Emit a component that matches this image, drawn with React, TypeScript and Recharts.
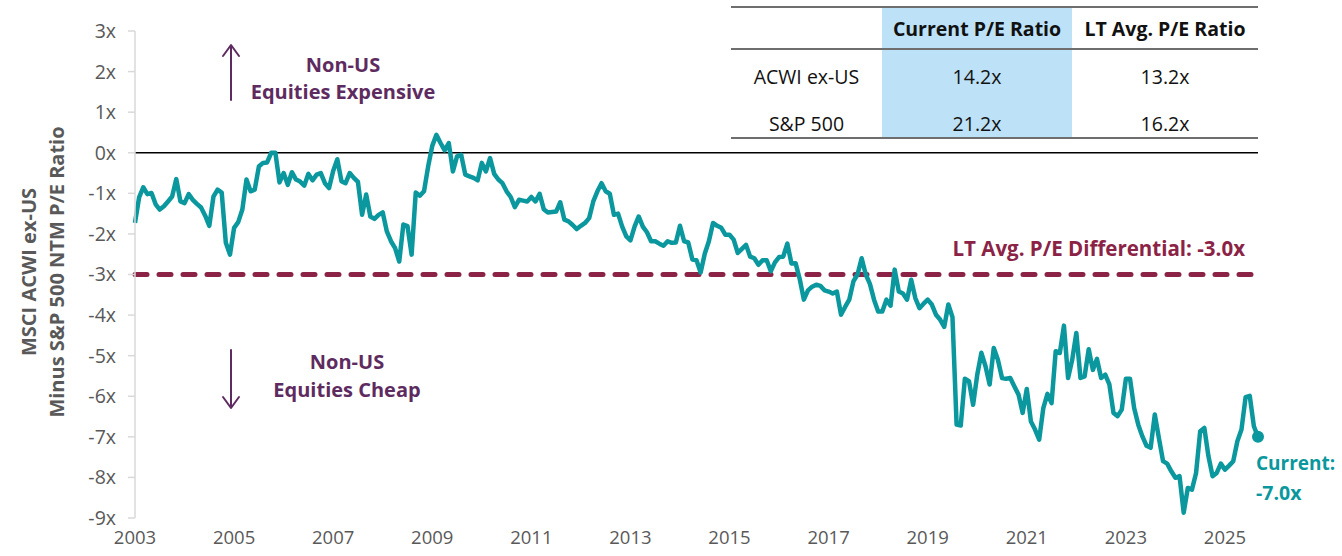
import { LineChart, Line, XAxis, YAxis, ReferenceLine } from "recharts";

// MSCI ACWI ex-US minus S&P 500 NTM P/E, monthly from Jan 2003
const startYear = 2003;
const peDiff = [
  -1.73, -1.1, -0.85, -1.02, -0.99, -1.27, -1.4, -1.32, -1.2, -1.08, -0.65, -1.2,
  -1.24, -1.02, -1.16, -1.26, -1.35, -1.55, -1.8, -1.08, -0.91, -0.98, -2.22, -2.51,
  -1.85, -1.71, -1.4, -0.66, -0.95, -0.91, -0.34, -0.25, -0.24, 0.0, 0.0, -0.73,
  -0.5, -0.79, -0.48, -0.66, -0.71, -0.81, -0.52, -0.68, -0.54, -0.5, -0.75, -0.87,
  -0.45, -0.16, -0.7, -0.75, -0.5, -0.62, -0.72, -1.53, -1.03, -1.57, -1.63, -1.53,
  -1.47, -1.94, -2.18, -2.35, -2.68, -1.77, -1.81, -2.51, -0.98, -1.06, -0.95, -0.34,
  0.17, 0.44, 0.24, 0.06, 0.24, -0.46, -0.09, -0.05, -0.54, -0.58, -0.62, -0.68,
  -0.25, -0.46, -0.13, -0.52, -0.66, -0.75, -0.95, -1.09, -1.34, -1.16, -1.18, -1.2,
  -1.09, -1.2, -1.01, -1.39, -1.47, -1.46, -1.45, -1.22, -1.65, -1.69, -1.78, -1.88,
  -1.8, -1.73, -1.61, -1.2, -0.95, -0.75, -0.95, -1.01, -1.53, -1.5, -1.82, -2.06,
  -2.16, -1.82, -1.57, -1.82, -1.96, -2.18, -2.18, -2.24, -2.29, -2.18, -2.22, -2.21,
  -1.8, -2.18, -2.21, -2.63, -2.65, -2.95, -2.49, -2.18, -1.73, -1.8, -1.85, -2.02,
  -2.02, -2.14, -2.47, -2.37, -2.27, -2.56, -2.6, -2.76, -2.65, -2.65, -2.92, -2.7,
  -2.57, -2.56, -2.24, -2.73, -2.72, -3.11, -3.62, -3.39, -3.3, -3.25, -3.28, -3.39,
  -3.42, -3.47, -3.42, -3.99, -3.8, -3.62, -3.17, -3.0, -2.6, -3.0, -3.23, -3.62,
  -3.91, -3.91, -3.62, -3.77, -2.88, -3.42, -3.47, -3.62, -3.13, -3.58, -3.83, -3.72,
  -3.62, -3.74, -3.99, -4.11, -4.29, -3.74, -4.05, -6.7, -6.72, -5.57, -5.63, -6.21,
  -5.47, -4.93, -5.26, -5.71, -4.81, -5.1, -5.55, -5.57, -5.55, -5.76, -5.96, -6.41,
  -5.82, -6.62, -6.82, -7.07, -6.29, -5.94, -6.17, -4.89, -4.93, -4.26, -5.55, -5.1,
  -4.44, -5.55, -5.51, -4.84, -5.35, -5.08, -5.55, -5.47, -5.71, -6.41, -6.49, -6.33,
  -5.57, -5.57, -6.29, -6.7, -6.99, -7.22, -7.27, -6.45, -7.03, -7.6, -7.66, -7.85,
  -8.01, -7.97, -8.87, -8.26, -8.3, -7.89, -6.86, -6.78, -7.48, -7.97, -7.89, -7.66,
  -7.81, -7.71, -7.6, -7.11, -6.82, -6.02, -5.99, -6.74, -7.0,
];
const yearLabels = [2003, 2005, 2007, 2009, 2011, 2013, 2015, 2017, 2019, 2021, 2023, 2025];
const yTicks = [-9, -8, -7, -6, -5, -4, -3, -2, -1, 0, 1, 2, 3];
const ltAvgDiff = -3.0;

const tableHeaders = ["Current P/E Ratio", "LT Avg. P/E Ratio"];
const tableRows = ["ACWI ex-US", "S&P 500"];
const currentPE = [14.2, 21.2];
const ltAvgPE = [13.2, 16.2];

const FONT = "'Open Sans', sans-serif";
const TEAL = "#0a979d";
const MAROON = "#8b2346";
const PURPLE = "#5e2b60";
const GRAY = "#595959";

const data = peDiff.map((v, i) => ({ m: i, v }));
const lastIdx = data.length - 1;

function EndDot(props: any) {
  const { cx, cy, index } = props;
  if (index !== lastIdx) return <g key={`d${index}`} />;
  return (
    <g key={`d${index}`}>
      <circle cx={cx} cy={cy} r={6} fill={TEAL} />
      <text x={cx - 2} y={cy + 33} fill={TEAL} fontSize={19} fontWeight={700} fontFamily={FONT}>
        Current:
      </text>
      <text x={cx - 2} y={cy + 63} fill={TEAL} fontSize={19.5} fontWeight={700} fontFamily={FONT}>
        {`${peDiff[lastIdx].toFixed(1)}x`}
      </text>
    </g>
  );
}

function AvgLabel(props: any) {
  const { viewBox } = props;
  return (
    <text
      x={viewBox.x + viewBox.width - 13}
      y={viewBox.y - 19}
      textAnchor="end"
      fill={MAROON}
      fontSize={20.5}
      fontWeight={700}
      fontFamily={FONT}
    >
      {`LT Avg. P/E Differential: ${ltAvgDiff.toFixed(1)}x`}
    </text>
  );
}

const cell = (left: number, width: number, top: number, bold: boolean): React.CSSProperties => ({
  position: "absolute",
  left,
  width,
  top,
  height: 30,
  lineHeight: "30px",
  textAlign: "center",
  fontFamily: FONT,
  fontSize: 19.5,
  fontWeight: bold ? 700 : 400,
  color: "#111",
  whiteSpace: "nowrap",
});

export default function App() {
  return (
    <div style={{ position: "absolute", left: 0, top: 0, width: 1342, height: 556, background: "#fff" }}>
      {/* table behind the chart */}
      <div style={{ position: "absolute", left: 882, top: 8, width: 190, height: 130, background: "#bde1f7" }} />
      <div style={{ position: "absolute", left: 731, top: 6, width: 527, height: 2, background: "#6e6e6e" }} />
      <div style={{ position: "absolute", left: 731, top: 48, width: 527, height: 2, background: "#6e6e6e" }} />
      <div style={{ position: "absolute", left: 731, top: 137, width: 527, height: 2, background: "#6e6e6e" }} />
      <div style={cell(882, 190, 14, true)}>{tableHeaders[0]}</div>
      <div style={cell(1072, 186, 14, true)}>{tableHeaders[1]}</div>
      {tableRows.map((r, i) => (
        <div key={r}>
          <div style={cell(731, 151, 62 + i * 47, false)}>{r}</div>
          <div style={cell(882, 190, 62 + i * 47, false)}>{`${currentPE[i].toFixed(1)}x`}</div>
          <div style={cell(1072, 186, 62 + i * 47, false)}>{`${ltAvgPE[i].toFixed(1)}x`}</div>
        </div>
      ))}

      <div style={{ position: "absolute", left: 0, top: 0 }}>
        <LineChart width={1342} height={556} data={data} margin={{ top: 31, right: 84, bottom: 8, left: 75 }}>
          <XAxis
            dataKey="m"
            type="number"
            domain={[0, lastIdx]}
            ticks={yearLabels.map((y) => (y - startYear) * 12)}
            tickFormatter={(m: number) => String(startYear + Math.round(m / 12))}
            axisLine={false}
            tickLine={false}
            tickSize={8}
            tickMargin={5}
            tick={{ fill: GRAY, fontSize: 18.5, fontFamily: FONT }}
            interval={0}
          />
          <YAxis
            domain={[-9, 3]}
            ticks={yTicks}
            width={60}
            tickFormatter={(v: number) => `${v}x`}
            axisLine={{ stroke: "#d9d9d9", strokeWidth: 1.5 }}
            tickLine={{ stroke: "#d9d9d9", strokeWidth: 1.5 }}
            tickSize={7}
            tickMargin={12}
            tick={{ fill: GRAY, fontSize: 19.5, fontFamily: FONT }}
            interval={0}
          />
          <ReferenceLine y={0} stroke="#000" strokeWidth={1.5} />
          <ReferenceLine
            y={ltAvgDiff}
            stroke={MAROON}
            strokeWidth={5}
            strokeDasharray="12 12"
            strokeLinecap="round"
            label={AvgLabel}
          />
          <Line
            dataKey="v"
            type="linear"
            stroke={TEAL}
            strokeWidth={4.5}
            strokeLinejoin="round"
            dot={EndDot}
            activeDot={false}
            isAnimationActive={false}
          />
        </LineChart>
      </div>

      {/* annotations */}
      <svg width={1342} height={556} style={{ position: "absolute", left: 0, top: 0, pointerEvents: "none" }}>
        <g fontFamily={FONT} fontWeight={700} fill={GRAY} fontSize={20} textAnchor="middle">
          <text transform="translate(36 272) rotate(-90)">MSCI ACWI ex-US</text>
          <text transform="translate(64 272) rotate(-90)">Minus S&amp;P 500 NTM P/E Ratio</text>
        </g>
        <g stroke={PURPLE} strokeWidth={2} fill="none" strokeLinecap="round" strokeLinejoin="round">
          <line x1={231} y1={46} x2={231} y2={100} />
          <polyline points="223,56 231,45 239,56" />
          <line x1={231} y1={350} x2={231} y2={407} />
          <polyline points="223,397 231,408 239,397" />
        </g>
        <g fontFamily={FONT} fontWeight={700} fill={PURPLE} fontSize={20} textAnchor="middle">
          <text x={343} y={72}>Non-US</text>
          <text x={343} y={99}>Equities Expensive</text>
          <text x={347} y={369}>Non-US</text>
          <text x={347} y={397}>Equities Cheap</text>
        </g>
      </svg>
    </div>
  );
}
